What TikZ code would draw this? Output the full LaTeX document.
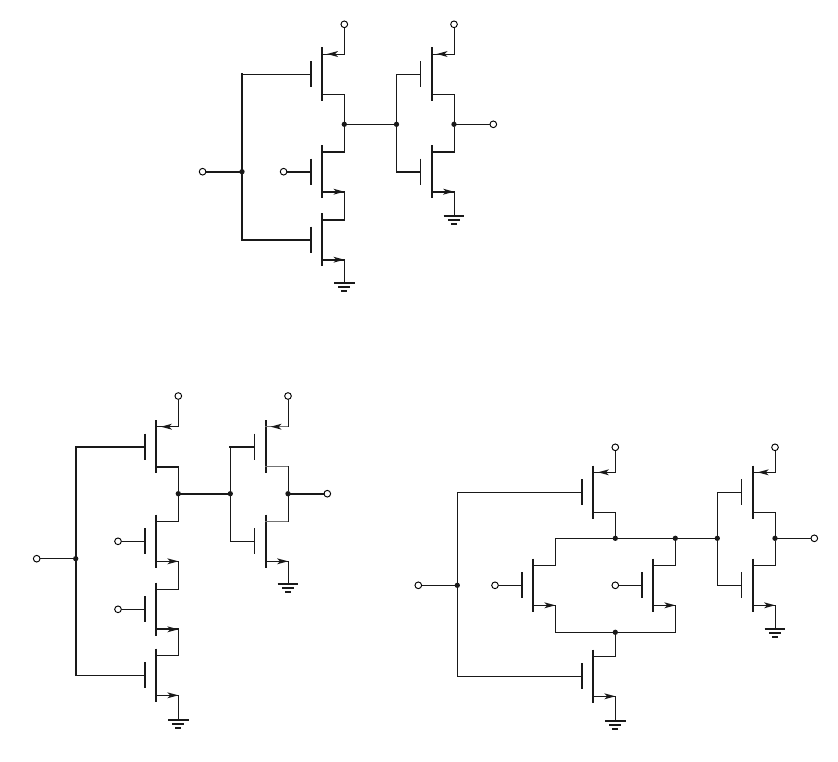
\documentclass[tikz,border=0pt]{standalone}
\usepackage{amssymb,amsmath}
\usepackage{tikz}

\tikzset{
  wire/.style={line width=0.75pt,line cap=rect,black!90},
  hiwire/.style={line width=1.5pt,line cap=rect,black!90},
  greywire/.style={line width=1.1pt,line cap=rect,black!55},
  gndwire/.style={line width=1.3pt,black!90},
  plate/.style={line width=1.3pt,black!90},
  term/.style={circle,draw,line width=0.7pt,fill=white,inner sep=0pt,minimum size=5pt},
  junc/.style={circle,fill=black!90,inner sep=0pt,minimum size=4pt}
}

% channel, gate plate and named pins of a transistor
\newcommand{\fetbody}[3]{
  \draw[plate] (#2,#3-26.7) -- (#2,#3+26.7);
  \draw[plate] (#2-11.3,#3-13) -- (#2-11.3,#3+13);
  \coordinate (#1-g) at (#2-11.3,#3);
  \coordinate (#1-ur) at (#2+22.3,#3-20);
  \coordinate (#1-lr) at (#2+22.3,#3+20);
}
% name, x, y, style of upper stub, style of lower stub
\newcommand{\pfet}[5]{
  \fetbody{#1}{#2}{#3}
  \draw[#4] (#2,#3-20) -- (#1-ur);
  \draw[#5] (#2,#3+20) -- (#1-lr);
  \fill[black!90] (#2+5,#3-20) -- (#2+16,#3-23) -- (#2+13,#3-20) -- (#2+16,#3-17) -- cycle;
}
\newcommand{\nfet}[5]{
  \fetbody{#1}{#2}{#3}
  \draw[#4] (#2,#3-20) -- (#1-ur);
  \draw[#5] (#2,#3+20) -- (#1-lr);
  \fill[black!90] (#2+22.3,#3+20) -- (#2+11.3,#3+17) -- (#2+14.3,#3+20) -- (#2+11.3,#3+23) -- cycle;
}
% name, x, y
\newcommand{\gnd}[3]{
  \coordinate (#1) at (#2,#3);
  \draw[gndwire] (#2-10.3,#3) -- (#2+10.3,#3);
  \draw[gndwire] (#2-6,#3+4) -- (#2+6,#3+4);
  \draw[gndwire] (#2-3,#3+8) -- (#2+3,#3+8);
}

\begin{document}
\begin{tikzpicture}[x=0.75pt,y=0.75pt,yscale=-1,xscale=1]
\useasboundingbox (0,0) rectangle (838,761);

%Top circuit
\pfet{ap1}{322}{74}{wire}{wire}
\nfet{an1}{322}{171.7}{hiwire}{hiwire}
\nfet{an2}{322}{239.7}{hiwire}{hiwire}
\pfet{ap2}{431.7}{74}{wire}{wire}
\nfet{an3}{431.7}{171.7}{hiwire}{hiwire}
\gnd{ag1}{344.3}{283.3}
\gnd{ag2}{454}{215.7}
\coordinate (ac1) at (242,74);
\coordinate (ac2) at (242,239.7);
\coordinate (ac3) at (396.5,74);
\coordinate (ac4) at (396.5,171.7);
\node[junc] (aj1) at (344.3,124.3) {};
\node[junc] (aj2) at (396.5,124.3) {};
\node[junc] (aj3) at (454,124.3) {};
\node[junc] (ajin) at (242,171.7) {};
\node[term] (avdd1) at (344.3,24.3) {};
\node[term] (avdd2) at (454,24.3) {};
\node[term] (aout) at (493.3,124.3) {};
\node[term] (ain1) at (202.6,171.7) {};
\node[term] (ain2) at (283.6,171.7) {};
\draw[wire] (avdd1) -- (ap1-ur);
\draw[wire] (avdd2) -- (ap2-ur);
\draw[wire] (ap1-lr) -- (aj1);
\draw[wire] (an1-ur) -- (aj1);
\draw[wire] (an1-lr) -- (an2-ur);
\draw[wire] (an2-lr) -- (ag1);
\draw[wire] (aj1) -- (aj2);
\draw[wire] (aj3) -- (aout);
\draw[wire] (ap2-lr) -- (aj3);
\draw[wire] (an3-ur) -- (aj3);
\draw[wire] (an3-lr) -- (ag2);
\draw[wire] (ac1) -- (ap1-g);
\draw[hiwire] (ac1) -- (ac2);
\draw[hiwire] (ac2) -- (an2-g);
\draw[hiwire] (ain1) -- (ajin);
\draw[hiwire] (ain2) -- (an1-g);
\draw[wire] (aj2) -- (ac3) -- (ap2-g);
\draw[wire] (aj2) -- (ac4);
\draw[hiwire] (ac4) -- (an3-g);

%Bottom left circuit
\pfet{bp1}{156}{446.7}{wire}{hiwire}
\nfet{bn1}{156}{541.3}{wire}{wire}
\nfet{bn2}{156}{609.3}{wire}{hiwire}
\nfet{bn3}{156}{675.3}{wire}{wire}
\pfet{bp2}{265.7}{446.7}{greywire}{greywire}
\nfet{bn4}{265.7}{541.3}{greywire}{wire}
\gnd{bg1}{178.3}{720}
\gnd{bg2}{288}{584.3}
\coordinate (bc1) at (75.7,446.7);
\coordinate (bc2) at (75.7,675.3);
\coordinate (bc3) at (230.3,446.7);
\coordinate (bc4) at (230.3,541.3);
\node[junc] (bj1) at (178.3,493.7) {};
\node[junc] (bj2) at (230.3,493.7) {};
\node[junc] (bj3) at (288,493.7) {};
\node[junc] (bjin) at (75.7,558.7) {};
\node[term] (bvdd1) at (178.3,396) {};
\node[term] (bvdd2) at (288,396) {};
\node[term] (bout) at (327.3,493.7) {};
\node[term] (bin1) at (36.7,558.7) {};
\node[term] (bin2) at (118,541.3) {};
\node[term] (bin3) at (118,609.3) {};
\draw[wire] (bvdd1) -- (bp1-ur);
\draw[wire] (bvdd2) -- (bp2-ur);
\draw[wire] (bp1-lr) -- (bj1);
\draw[wire] (bn1-ur) -- (bj1);
\draw[wire] (bn1-lr) -- (bn2-ur);
\draw[wire] (bn2-lr) -- (bn3-ur);
\draw[wire] (bn3-lr) -- (bg1);
\draw[hiwire] (bj1) -- (bj2);
\draw[hiwire] (bj3) -- (bout);
\draw[wire] (bp2-lr) -- (bj3);
\draw[wire] (bn4-ur) -- (bj3);
\draw[wire] (bn4-lr) -- (bg2);
\draw[hiwire] (bp1-g) -- (bc1);
\draw[hiwire] (bc1) -- (bc2);
\draw[wire] (bc2) -- (bn3-g);
\draw[wire] (bin1) -- (bjin);
\draw[wire] (bin2) -- (bn1-g);
\draw[wire] (bin3) -- (bn2-g);
\draw[wire] (bj2) -- (bc3);
\draw[hiwire] (bc3) -- (bp2-g);
\draw[wire] (bj2) -- (bc4) -- (bn4-g);

%Bottom right circuit
\pfet{cp1}{593}{492.3}{wire}{wire}
\nfet{cn1}{533}{585.3}{wire}{wire}
\nfet{cn2}{653}{585.3}{wire}{wire}
\nfet{cn3}{593}{676.3}{wire}{wire}
\pfet{cp2}{752.7}{492.3}{wire}{wire}
\nfet{cn4}{752.7}{585.3}{wire}{wire}
\gnd{cg1}{615.3}{720.7}
\gnd{cg2}{775}{629}
\coordinate (cc1) at (457.3,492.3);
\coordinate (cc2) at (457.3,676.3);
\coordinate (cc3) at (717.3,492.3);
\coordinate (cc4) at (717.3,585.3);
\coordinate (cc5) at (555.3,538.3);
\coordinate (cc6) at (555.3,632.3);
\coordinate (cc7) at (675.3,632.3);
\node[junc] (cj1) at (615.3,538.3) {};
\node[junc] (cj2) at (675.3,538.3) {};
\node[junc] (cj3) at (717.3,538.3) {};
\node[junc] (cj4) at (775,538.3) {};
\node[junc] (cj5) at (615.3,632.3) {};
\node[junc] (cjin) at (457.3,585.3) {};
\node[term] (cvdd1) at (615.3,447.3) {};
\node[term] (cvdd2) at (775,447.3) {};
\node[term] (cout) at (814.3,538.3) {};
\node[term] (cin1) at (418.3,585.3) {};
\node[term] (cin2) at (495,585.3) {};
\node[term] (cin3) at (615.3,585.3) {};
\draw[wire] (cvdd1) -- (cp1-ur);
\draw[wire] (cvdd2) -- (cp2-ur);
\draw[wire] (cp1-lr) -- (cj1);
\draw[wire] (cn1-ur) -- (cc5) -- (cj1);
\draw[wire] (cj1) -- (cj2);
\draw[wire] (cj2) -- (cj3);
\draw[wire] (cj4) -- (cout);
\draw[wire] (cn2-ur) -- (cj2);
\draw[wire] (cn1-lr) -- (cc6) -- (cj5);
\draw[wire] (cn2-lr) -- (cc7) -- (cj5);
\draw[wire] (cj5) -- (cn3-ur);
\draw[wire] (cn3-lr) -- (cg1);
\draw[wire] (cp2-lr) -- (cj4);
\draw[wire] (cn4-ur) -- (cj4);
\draw[wire] (cn4-lr) -- (cg2);
\draw[wire] (cp1-g) -- (cc1) -- (cc2) -- (cn3-g);
\draw[wire] (cin1) -- (cjin);
\draw[wire] (cin2) -- (cn1-g);
\draw[wire] (cin3) -- (cn2-g);
\draw[wire] (cj3) -- (cc3) -- (cp2-g);
\draw[wire] (cj3) -- (cc4) -- (cn4-g);
\end{tikzpicture}
\end{document}
